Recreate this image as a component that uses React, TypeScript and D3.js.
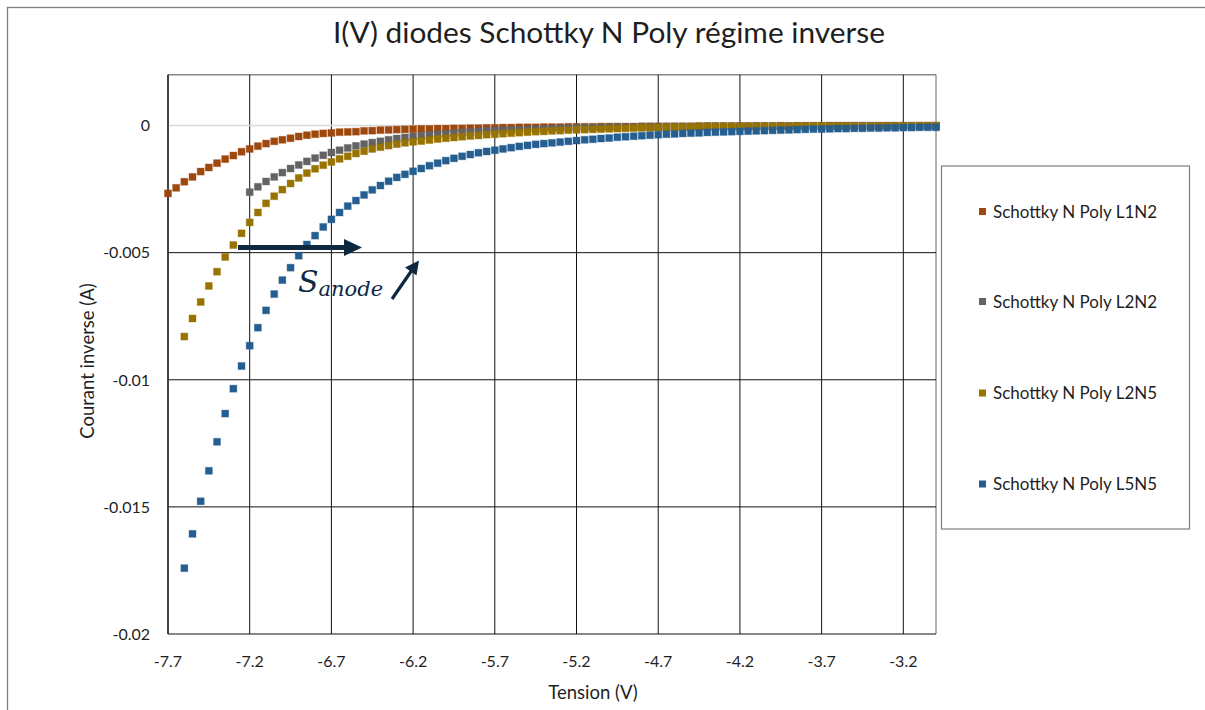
import React from "react";
import * as d3 from "d3";

// Reverse-bias I(V) sweep, 50 mV steps
const voltages = [
  -7.7, -7.65, -7.6, -7.55, -7.5, -7.45, -7.4, -7.35, -7.3, -7.25,
  -7.2, -7.15, -7.1, -7.05, -7.0, -6.95, -6.9, -6.85, -6.8, -6.75,
  -6.7, -6.65, -6.6, -6.55, -6.5, -6.45, -6.4, -6.35, -6.3, -6.25,
  -6.2, -6.15, -6.1, -6.05, -6.0, -5.95, -5.9, -5.85, -5.8, -5.75,
  -5.7, -5.65, -5.6, -5.55, -5.5, -5.45, -5.4, -5.35, -5.3, -5.25,
  -5.2, -5.15, -5.1, -5.05, -5.0, -4.95, -4.9, -4.85, -4.8, -4.75,
  -4.7, -4.65, -4.6, -4.55, -4.5, -4.45, -4.4, -4.35, -4.3, -4.25,
  -4.2, -4.15, -4.1, -4.05, -4.0, -3.95, -3.9, -3.85, -3.8, -3.75,
  -3.7, -3.65, -3.6, -3.55, -3.5, -3.45, -3.4, -3.35, -3.3, -3.25,
  -3.2, -3.15, -3.1, -3.05, -3.0,
];

// Reverse current (A); null where the device was not measured
const currentL1N2 = [
  -0.00267, -0.00245, -0.00221, -0.00202, -0.00181, -0.00165, -0.00148, -0.00132, -0.00118, -0.00103,
  -0.00092, -0.00081, -0.00071, -0.00062, -0.00056, -0.0005, -0.00043, -0.00038, -0.00034, -0.00031,
  -0.00029, -0.00026, -0.00025, -0.00024, -0.00021, -0.0002, -0.00018, -0.00017, -0.00016, -0.00015,
  -0.00014, -0.00013, -0.00013, -0.00012, -0.00012, -0.00011, -0.00011, -0.0001, -0.0001, -0.00009,
  -0.00009, -0.00008, -0.00008, -0.00007, -0.00007, -0.00007, -0.00006, -0.00006, -0.00006, -0.00005,
  -0.00005, -0.00005, -0.00005, -0.00004, -0.00004, -0.00004, -0.00004, -0.00004, -0.00003, -0.00003,
  -0.00003, -0.00003, -0.00003, -0.00003, -0.00003, -0.00002, -0.00002, -0.00002, -0.00002, -0.00002,
  -0.00002, -0.00002, -0.00002, -0.00002, -0.00002, -0.00001, -0.00002, -0.00001, -0.00001, -0.00001,
  -0.00001, -0.00001, -0.00001, -0.00001, -0.00001, -0.00001, -0.00001, -0.00001, -0.00001, -0.00001,
  -0.00001, -0.00001, -0.00001, -0.00001, -0.00001,
];

const currentL2N2 = [
  null, null, null, null, null, null, null, null, null, null,
  -0.00262, -0.00241, -0.0022, -0.00202, -0.00185, -0.00169, -0.00155, -0.00141, -0.00128, -0.00117,
  -0.00106, -0.00097, -0.00088, -0.0008, -0.00073, -0.00067, -0.00062, -0.00056, -0.00051, -0.00047,
  -0.00043, -0.0004, -0.00037, -0.00035, -0.00032, -0.0003, -0.00027, -0.00025, -0.00023, -0.00021,
  -0.0002, -0.00018, -0.00017, -0.00016, -0.00015, -0.00014, -0.00013, -0.00012, -0.00011, -0.0001,
  -0.00009, -0.00009, -0.00008, -0.00008, -0.00007, -0.00007, -0.00006, -0.00006, -0.00006, -0.00005,
  -0.00005, -0.00005, -0.00004, -0.00004, -0.00004, -0.00004, -0.00003, -0.00003, -0.00003, -0.00003,
  -0.00003, -0.00003, -0.00002, -0.00002, -0.00002, -0.00002, -0.00002, -0.00002, -0.00002, -0.00002,
  -0.00002, -0.00001, -0.00001, -0.00001, -0.00001, -0.00001, -0.00001, -0.00001, -0.00001, -0.00001,
  -0.00001, -0.00001, -0.00001, -0.00001, -0.00001,
];

const currentL2N5 = [
  null, null, -0.0083, -0.00759, -0.00694, -0.00631, -0.00575, -0.00517, -0.0047, -0.00424,
  -0.00381, -0.00342, -0.00306, -0.00278, -0.00252, -0.00228, -0.00206, -0.00187, -0.0017, -0.00156,
  -0.00143, -0.00131, -0.00121, -0.0011, -0.00101, -0.00092, -0.00085, -0.00079, -0.00073, -0.00068,
  -0.00064, -0.00061, -0.00057, -0.00053, -0.0005, -0.00047, -0.00044, -0.00041, -0.00039, -0.00036,
  -0.00034, -0.00032, -0.0003, -0.00028, -0.00026, -0.00024, -0.00023, -0.00021, -0.0002, -0.00018,
  -0.00017, -0.00016, -0.00015, -0.00014, -0.00013, -0.00012, -0.00011, -0.0001, -0.00009, -0.00009,
  -0.00008, -0.00007, -0.00007, -0.00006, -0.00006, -0.00005, -0.00005, -0.00005, -0.00004, -0.00004,
  -0.00004, -0.00004, -0.00003, -0.00003, -0.00003, -0.00003, -0.00003, -0.00003, -0.00002, -0.00002,
  -0.00002, -0.00002, -0.00002, -0.00002, -0.00002, -0.00002, -0.00002, -0.00002, -0.00002, -0.00002,
  -0.00002, -0.00002, -0.00001, -0.00001, -0.00001,
];

const currentL5N5 = [
  null, null, -0.01741, -0.01606, -0.01478, -0.01358, -0.01244, -0.01133, -0.01035, -0.00946,
  -0.00866, -0.00795, -0.00727, -0.00663, -0.00608, -0.00559, -0.00512, -0.00468, -0.00433, -0.00399,
  -0.00369, -0.00342, -0.00317, -0.00295, -0.00273, -0.00253, -0.00236, -0.00219, -0.00204, -0.00192,
  -0.0018, -0.00169, -0.00158, -0.00148, -0.00138, -0.00129, -0.00121, -0.00114, -0.00107, -0.00102,
  -0.00097, -0.00092, -0.00087, -0.00082, -0.00078, -0.00074, -0.00071, -0.00068, -0.00065, -0.00062,
  -0.00059, -0.00056, -0.00054, -0.00051, -0.00049, -0.00046, -0.00044, -0.00042, -0.0004, -0.00038,
  -0.00036, -0.00034, -0.00033, -0.00031, -0.0003, -0.00029, -0.00027, -0.00026, -0.00025, -0.00024,
  -0.00023, -0.00022, -0.00021, -0.0002, -0.00019, -0.00018, -0.00017, -0.00016, -0.00015, -0.00014,
  -0.00014, -0.00013, -0.00012, -0.00012, -0.00011, -0.00011, -0.0001, -0.0001, -0.00009, -0.00009,
  -0.00008, -0.00008, -0.00007, -0.00007, -0.00007,
];

const seriesNames = [
  "Schottky N Poly L1N2",
  "Schottky N Poly L2N2",
  "Schottky N Poly L2N5",
  "Schottky N Poly L5N5",
];
const seriesColors = ["#9E480E", "#636363", "#997300", "#255E91"];
const seriesValues = [currentL1N2, currentL2N2, currentL2N5, currentL5N5];

const xTicks = [-7.7, -7.2, -6.7, -6.2, -5.7, -5.2, -4.7, -4.2, -3.7, -3.2];
const xTickLabels = ["-7.7", "-7.2", "-6.7", "-6.2", "-5.7", "-5.2", "-4.7", "-4.2", "-3.7", "-3.2"];
const yTicks = [0, -0.005, -0.01, -0.015, -0.02];
const yTickLabels = ["0", "-0.005", "-0.01", "-0.015", "-0.02"];

const W = 1205;
const H = 710;
const FONT = "Lato, 'Open Sans', sans-serif";
const TEXT = "#1f1f1f";
const NAVY = "#0E2841";

export default function App() {
  const x = d3.scaleLinear().domain([-7.7, -3.0]).range([168, 936]);
  const y = d3.scaleLinear().domain([0.002, -0.02]).range([74.7, 634]);
  const [x0, x1] = x.range();
  const [y0, y1] = y.range();
  const m = 7; // marker side

  const legendY = [211.5, 301.5, 393, 484];

  return (
    <svg
      width={W}
      height={H}
      style={{ position: "absolute", left: 0, top: 0, background: "#fff" }}
      fontFamily={FONT}
    >
      {/* chart area border */}
      <rect x={7.5} y={7.5} width={W + 10} height={H + 10} fill="#fff" stroke="#7f7f7f" strokeWidth={1.3} />

      <text x={609} y={43} textAnchor="middle" fontSize={28} fill={TEXT} textLength={552} lengthAdjust="spacingAndGlyphs">
        I(V) diodes Schottky N Poly régime inverse
      </text>

      {/* plot frame & grid */}
      <line x1={x0} x2={x1} y1={y0} y2={y0} stroke="#888" strokeWidth={1.5} />
      {xTicks.map((t) => (
        <line key={"gx" + t} x1={x(t)} x2={x(t)} y1={y0} y2={y1} stroke="#111" strokeWidth={1} />
      ))}
      <line x1={x1} x2={x1} y1={y0} y2={y1} stroke="#666" strokeWidth={1} />
      {yTicks.map((t) => (
        <line key={"gy" + t} x1={x0} x2={x1} y1={y(t)} y2={y(t)} stroke={t === 0 ? "#d9d9d9" : "#111"} strokeWidth={t === 0 ? 1.5 : 1} />
      ))}
      <line x1={x0} x2={x0} y1={y0} y2={y1} stroke="#333" strokeWidth={1.6} />

      {/* tick labels */}
      {yTicks.map((t, i) => (
        <text key={"ly" + t} x={150} y={y(t)} dy="0.36em" textAnchor="end" fontSize={16} fill={TEXT}>
          {yTickLabels[i]}
        </text>
      ))}
      {xTicks.map((t, i) => (
        <text key={"lx" + t} x={x(t)} y={667} textAnchor="middle" fontSize={16} fill={TEXT}>
          {xTickLabels[i]}
        </text>
      ))}

      {/* axis titles */}
      <text x={593} y={699} textAnchor="middle" fontSize={18.5} fill={TEXT}>
        Tension (V)
      </text>
      <text transform="translate(94,361) rotate(-90)" textAnchor="middle" fontSize={18.5} fill={TEXT}>
        Courant inverse (A)
      </text>

      {/* data markers */}
      {seriesValues.map((vals, s) => (
        <g key={"s" + s} fill={seriesColors[s]}>
          {vals.map((v, i) =>
            v === null ? null : (
              <rect
                key={i}
                x={x(voltages[i]) - m / 2}
                y={y(v) - m / 2}
                width={m}
                height={m}
                stroke={seriesColors[s]}
                strokeOpacity={0.35}
                strokeWidth={1}
              />
            )
          )}
        </g>
      ))}

      {/* annotation: anode surface trend */}
      <line x1={238} x2={346} y1={247.5} y2={247.5} stroke={NAVY} strokeWidth={5} />
      <path d="M344,239 L362,247.5 L344,256 Z" fill={NAVY} />
      <line x1={392} y1={299} x2={412} y2={270} stroke={NAVY} strokeWidth={3.2} />
      <path d="M419,260.5 L416.5,275.5 L405,267.5 Z" fill={NAVY} />
      <text x={298} y={291.5} fill={NAVY} fontFamily="'DejaVu Serif', serif" fontStyle="italic" fontSize={30}>
        S
        <tspan fontSize={21} dy={4}>anode</tspan>
      </text>

      {/* legend */}
      <rect x={941.5} y={166} width={248} height={363} fill="#fff" stroke="#7f7f7f" strokeWidth={1.2} />
      {seriesNames.map((name, i) => (
        <g key={"lg" + i}>
          <rect x={982.5 - 3.5} y={legendY[i] - 3.5} width={7} height={7} fill={seriesColors[i]} />
          <text x={993} y={legendY[i]} dy="0.36em" fontSize={17} fill={TEXT}>
            {name}
          </text>
        </g>
      ))}
    </svg>
  );
}
